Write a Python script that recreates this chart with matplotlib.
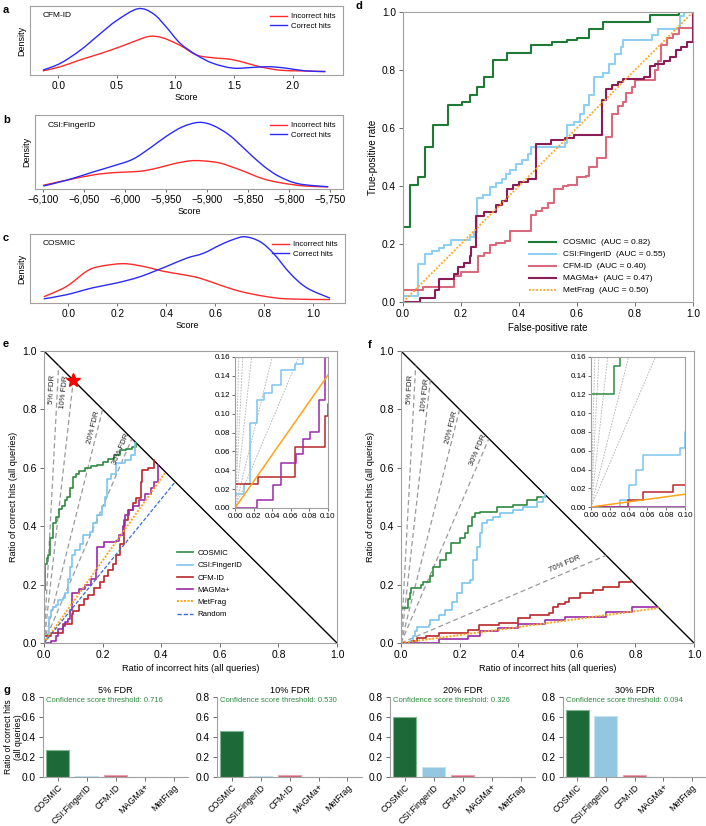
import numpy as np
import matplotlib
matplotlib.use("Agg")
import matplotlib.pyplot as plt
from matplotlib.ticker import FuncFormatter
from matplotlib.path import Path
from matplotlib.patches import PathPatch
from matplotlib.lines import Line2D

plt.rcParams['font.family'] = ['Liberation Sans', 'DejaVu Sans']
plt.rcParams['font.size'] = 7

W, H = 706, 826

# ---------------- data: density curves (a-c) ----------------
cfm_inc_x = [-0.13, 0.02, 0.19, 0.36, 0.53, 0.67, 0.78, 0.89, 1.04, 1.18, 1.32, 1.46, 1.57, 1.72, 1.89, 2.06, 2.28]
cfm_inc_y = [0.06, 0.12, 0.22, 0.31, 0.41, 0.50, 0.56, 0.54, 0.43, 0.29, 0.25, 0.23, 0.19, 0.12, 0.07, 0.06, 0.05]
cfm_cor_x = [-0.13, 0.02, 0.19, 0.36, 0.50, 0.68, 0.81, 0.92, 1.04, 1.18, 1.32, 1.49, 1.66, 1.80, 1.94, 2.11, 2.28]
cfm_cor_y = [0.07, 0.17, 0.36, 0.60, 0.79, 0.96, 0.89, 0.70, 0.46, 0.29, 0.17, 0.10, 0.11, 0.12, 0.10, 0.06, 0.05]

csi_inc_x = [-6100, -6071, -6039, -6015, -5982, -5962, -5941, -5921, -5905, -5884, -5860, -5832, -5808, -5780, -5752]
csi_inc_y = [0.05, 0.12, 0.19, 0.22, 0.24, 0.28, 0.34, 0.38, 0.38, 0.35, 0.26, 0.14, 0.08, 0.04, 0.03]
csi_cor_x = [-6100, -6071, -6039, -6015, -5991, -5970, -5950, -5930, -5910, -5893, -5873, -5853, -5832, -5812, -5788, -5752]
csi_cor_y = [0.04, 0.12, 0.23, 0.31, 0.40, 0.55, 0.71, 0.84, 0.90, 0.86, 0.73, 0.53, 0.32, 0.17, 0.07, 0.03]

cos_inc_x = [-0.10, -0.007, 0.075, 0.129, 0.224, 0.306, 0.388, 0.469, 0.537, 0.619, 0.70, 0.796, 0.891, 1.068]
cos_inc_y = [0.09, 0.24, 0.46, 0.53, 0.57, 0.53, 0.46, 0.41, 0.36, 0.26, 0.17, 0.10, 0.06, 0.05]
cos_cor_x = [-0.10, -0.007, 0.10, 0.197, 0.292, 0.401, 0.483, 0.551, 0.619, 0.673, 0.721, 0.782, 0.837, 0.905, 0.973, 1.068]
cos_cor_y = [0.06, 0.12, 0.22, 0.29, 0.38, 0.53, 0.65, 0.72, 0.84, 0.92, 0.96, 0.89, 0.72, 0.43, 0.22, 0.07]

# ---------------- data: ROC (d) ----------------
roc_cosmic_fpr = [0, 0, 0.025, 0.052, 0.077, 0.103, 0.155, 0.205, 0.23, 0.255, 0.28, 0.31, 0.36, 0.44, 0.515, 0.565, 0.60, 0.64, 0.69, 0.85, 0.95, 1.0]
roc_cosmic_tpr = [0, 0.26, 0.405, 0.43, 0.535, 0.61, 0.68, 0.69, 0.715, 0.74, 0.775, 0.835, 0.86, 0.885, 0.895, 0.905, 0.91, 0.94, 0.965, 0.99, 1.0, 1.0]
roc_csi_fpr = [0, 0, 0.05, 0.077, 0.10, 0.125, 0.14, 0.165, 0.23, 0.245, 0.255, 0.275, 0.30, 0.32, 0.34, 0.355, 0.37, 0.39, 0.41, 0.43,
               0.44, 0.56, 0.565, 0.59, 0.61, 0.625, 0.64, 0.66, 0.69, 0.71, 0.73, 0.75, 0.76, 0.86, 0.88, 0.95, 0.955, 0.97, 1.0]
roc_csi_tpr = [0, 0.02, 0.13, 0.165, 0.175, 0.185, 0.195, 0.215, 0.225, 0.24, 0.36, 0.37, 0.395, 0.41, 0.425, 0.44, 0.455, 0.475, 0.49, 0.51,
               0.535, 0.55, 0.61, 0.62, 0.65, 0.68, 0.715, 0.775, 0.79, 0.82, 0.855, 0.88, 0.905, 0.92, 0.94, 0.945, 0.985, 1.0, 1.0]
roc_cfm_fpr = [0, 0, 0.02, 0.07, 0.175, 0.20, 0.26, 0.28, 0.30, 0.32, 0.35, 0.37, 0.44, 0.46, 0.48, 0.50, 0.52, 0.55, 0.57, 0.60,
               0.63, 0.64, 0.67, 0.70, 0.72, 0.74, 0.76, 0.77, 0.79, 0.80, 0.87, 0.88, 0.89, 0.91, 0.93, 0.95, 1.0]
roc_cfm_tpr = [0, 0.04, 0.04, 0.053, 0.09, 0.105, 0.16, 0.17, 0.195, 0.205, 0.21, 0.245, 0.30, 0.315, 0.325, 0.34, 0.39, 0.40, 0.405, 0.43,
               0.435, 0.465, 0.495, 0.57, 0.65, 0.675, 0.69, 0.72, 0.74, 0.765, 0.80, 0.83, 0.885, 0.91, 0.925, 0.945, 1.0]
roc_magma_fpr = [0, 0.06, 0.11, 0.125, 0.175, 0.19, 0.21, 0.23, 0.235, 0.25, 0.28, 0.32, 0.34, 0.36, 0.38, 0.40, 0.43, 0.46, 0.51, 0.56,
                 0.59, 0.685, 0.70, 0.72, 0.74, 0.76, 0.83, 0.85, 0.87, 0.90, 0.92, 0.94, 0.96, 0.98, 1.0, 1.0]
roc_magma_tpr = [0, 0.015, 0.04, 0.08, 0.095, 0.12, 0.135, 0.16, 0.19, 0.295, 0.31, 0.335, 0.35, 0.39, 0.405, 0.415, 0.425, 0.545, 0.56, 0.565,
                 0.575, 0.695, 0.735, 0.75, 0.76, 0.77, 0.775, 0.815, 0.82, 0.83, 0.845, 0.87, 0.88, 0.895, 0.895, 1.0]
roc_metfrag_fpr = [0, 1]
roc_metfrag_tpr = [0, 1]
auc_labels = ['COSMIC  (AUC = 0.82)', 'CSI:FingerID  (AUC = 0.55)', 'CFM-ID  (AUC = 0.40)',
              'MAGMa+  (AUC = 0.47)', 'MetFrag  (AUC = 0.50)']

# ---------------- data: hits curves (e, f) ----------------
e_cosmic_x = [0, 0, 0.005, 0.01, 0.015, 0.02, 0.03, 0.04, 0.05, 0.06, 0.07, 0.08, 0.09, 0.10, 0.11, 0.12, 0.14, 0.16, 0.18, 0.20, 0.22, 0.24, 0.26, 0.28, 0.30, 0.315]
e_cosmic_y = [0, 0.18, 0.27, 0.29, 0.30, 0.36, 0.41, 0.43, 0.46, 0.47, 0.49, 0.50, 0.53, 0.57, 0.58, 0.59, 0.60, 0.605, 0.61, 0.62, 0.63, 0.645, 0.66, 0.665, 0.67, 0.685]
e_csi_x = [0, 0, 0.01, 0.016, 0.024, 0.031, 0.04, 0.049, 0.065, 0.073, 0.082, 0.088, 0.097, 0.105, 0.122, 0.133, 0.156, 0.168, 0.18, 0.197, 0.207, 0.215, 0.23, 0.247, 0.275, 0.298, 0.31]
e_csi_y = [0, 0.015, 0.025, 0.09, 0.114, 0.122, 0.13, 0.146, 0.153, 0.17, 0.22, 0.26, 0.30, 0.32, 0.34, 0.37, 0.38, 0.41, 0.44, 0.47, 0.50, 0.56, 0.58, 0.616, 0.627, 0.644, 0.685]
e_cfm_x = [0, 0, 0.025, 0.065, 0.097, 0.10, 0.12, 0.135, 0.15, 0.17, 0.19, 0.205, 0.22, 0.235, 0.245, 0.258, 0.272, 0.287, 0.304, 0.315, 0.332, 0.335, 0.355, 0.374]
e_cfm_y = [0, 0.025, 0.033, 0.065, 0.098, 0.11, 0.13, 0.15, 0.165, 0.19, 0.21, 0.23, 0.25, 0.27, 0.30, 0.34, 0.42, 0.456, 0.479, 0.496, 0.553, 0.593, 0.60, 0.626]
e_magma_x = [0, 0.024, 0.041, 0.049, 0.066, 0.073, 0.081, 0.09, 0.097, 0.12, 0.14, 0.16, 0.178, 0.18, 0.205, 0.245, 0.255, 0.27, 0.275, 0.29, 0.305, 0.325, 0.345, 0.365, 0.375, 0.39]
e_magma_y = [0, 0.008, 0.024, 0.048, 0.057, 0.073, 0.081, 0.114, 0.17, 0.185, 0.20, 0.22, 0.25, 0.33, 0.345, 0.35, 0.37, 0.40, 0.44, 0.455, 0.47, 0.49, 0.51, 0.53, 0.55, 0.61]
e_metfrag_x = [0, 0.415]
e_metfrag_y = [0, 0.585]
e_random_x = [0, 0.448]
e_random_y = [0, 0.552]

f_cosmic_x = [0, 0, 0.024, 0.031, 0.035, 0.067, 0.075, 0.098, 0.11, 0.132, 0.155, 0.172, 0.2, 0.218, 0.229, 0.241, 0.252, 0.269, 0.326, 0.383, 0.429, 0.463, 0.49]
f_cosmic_y = [0, 0.12, 0.15, 0.17, 0.19, 0.20, 0.21, 0.228, 0.26, 0.285, 0.308, 0.342, 0.36, 0.376, 0.40, 0.433, 0.444, 0.45, 0.467, 0.473, 0.49, 0.50, 0.51]
f_csi_x = [0, 0.031, 0.04, 0.048, 0.055, 0.095, 0.10, 0.13, 0.15, 0.175, 0.19, 0.207, 0.235, 0.246, 0.258, 0.269, 0.275, 0.292, 0.315, 0.338, 0.383, 0.418, 0.463, 0.486, 0.49]
f_csi_y = [0, 0.008, 0.024, 0.04, 0.056, 0.063, 0.08, 0.097, 0.114, 0.14, 0.171, 0.205, 0.215, 0.285, 0.33, 0.376, 0.41, 0.42, 0.433, 0.444, 0.456, 0.467, 0.484, 0.50, 0.51]
f_cfm_x = [0, 0.039, 0.055, 0.087, 0.13, 0.23, 0.265, 0.335, 0.40, 0.44, 0.505, 0.52, 0.535, 0.56, 0.575, 0.61, 0.655, 0.69, 0.745, 0.785]
f_cfm_y = [0, 0.008, 0.016, 0.024, 0.034, 0.045, 0.063, 0.068, 0.085, 0.097, 0.103, 0.125, 0.135, 0.14, 0.155, 0.171, 0.182, 0.193, 0.21, 0.215]
f_magma_x = [0, 0.13, 0.23, 0.27, 0.33, 0.40, 0.49, 0.56, 0.70, 0.79, 0.875]
f_magma_y = [0, 0.015, 0.025, 0.04, 0.05, 0.065, 0.08, 0.09, 0.105, 0.125, 0.125]
f_metfrag_x = [0, 0.88]
f_metfrag_y = [0, 0.12]

fdr_main_e = [0.05, 0.10, 0.20, 0.30]
fdr_main_f = [0.05, 0.10, 0.20, 0.30, 0.70]
fdr_inset = [0.025, 0.05, 0.10, 0.20, 0.30]
star_pt = (0.1, 0.9)

# ---------------- data: bar charts (g) ----------------
tools = ['COSMIC', 'CSI:FingerID', 'CFM-ID', 'MAGMa+', 'MetFrag']
fdr_titles = ['5% FDR', '10% FDR', '20% FDR', '30% FDR']
thresholds = ['0.716', '0.530', '0.326', '0.094']
bar_vals = [
    [0.27, 0.01, 0.02, 0.0, 0.0],
    [0.46, 0.01, 0.02, 0.0, 0.0],
    [0.60, 0.10, 0.02, 0.0, 0.0],
    [0.67, 0.61, 0.02, 0.0, 0.0],
]

# colours
RED, BLUE = '#ff2a2a', '#2a2aff'
D_COL = ['#1e7b36', '#8fd0f2', '#d9697d', '#8a1d55', '#ffa31a']
E_COL = ['#2e8a40', '#7cc6ee', '#b8282a', '#9a2aa8', '#ffa31a']
RANDOM_COL = '#3a6bd6'
BAR_FACE = ['#1d6a38', '#93c7e0', '#d05d71', '#8a3a7c', '#ffa31a']
BAR_EDGE = ['#7fb58f', '#c6e3f0', '#e8a3ae', '#c49ab8', '#ffd18c']
SPINE = '#a0a0a0'


def ax_px(x0, y0, x1, y1):
    return fig.add_axes([x0 / W, 1 - y1 / H, (x1 - x0) / W, (y1 - y0) / H])


def style(ax, ls=7.3):
    for s in ax.spines.values():
        s.set_color(SPINE)
        s.set_linewidth(0.8)
    ax.tick_params(labelsize=ls, length=3, width=0.6, color='#555555', pad=2)


def smooth_curve(ax, xs, ys, color):
    # smooth drawing through the read points (Catmull-Rom as cubic Bezier)
    p = np.column_stack([xs, ys]).astype(float)
    verts, codes = [p[0]], [Path.MOVETO]
    for i in range(len(p) - 1):
        p0 = p[i - 1] if i > 0 else p[i]
        p3 = p[i + 2] if i + 2 < len(p) else p[i + 1]
        verts += [p[i] + (p[i + 1] - p0) / 6, p[i + 1] - (p3 - p[i]) / 6, p[i + 1]]
        codes += [Path.CURVE4] * 3
    ax.add_patch(PathPatch(Path(verts, codes), fill=False, edgecolor=color, lw=1.0))


fig = plt.figure(figsize=(W / 100, H / 100), dpi=100)

# ---------------- a, b, c ----------------
dens = [
    ('CFM-ID', (30, 6, 343, 75), cfm_inc_x, cfm_inc_y, cfm_cor_x, cfm_cor_y, (-0.24, 2.43), np.arange(0, 2.01, 0.5), '{:.1f}'),
    ('CSI:FingerID', (35, 115, 343, 189), csi_inc_x, csi_inc_y, csi_cor_x, csi_cor_y, (-6110, -5734), np.arange(-6100, -5749, 50), 'comma'),
    ('COSMIC', (30, 234, 345, 303), cos_inc_x, cos_inc_y, cos_cor_x, cos_cor_y, (-0.156, 1.129), np.arange(0, 1.01, 0.2), '{:.1f}'),
]
for name, box, ix, iy, cx, cy, xl, ticks, fmt in dens:
    ax = ax_px(*box)
    smooth_curve(ax, ix, iy, RED)
    smooth_curve(ax, cx, cy, BLUE)
    ax.set_xlim(*xl)
    ax.set_ylim(0, 1.0)
    ax.set_yticks([])
    ax.set_xticks(ticks)
    if fmt == 'comma':
        ax.xaxis.set_major_formatter(FuncFormatter(lambda v, p: f'{v:,.0f}'.replace('-', '\u2212')))
    else:
        ax.set_xticklabels([fmt.format(t) for t in ticks])
    ax.set_xlabel('Score', fontsize=6.5, labelpad=2)
    ax.set_ylabel('Density', fontsize=6.5, labelpad=3)
    ax.text(0.04, 0.84, name, transform=ax.transAxes, fontsize=6)
    handles = [Line2D([], [], color=RED, lw=1.0), Line2D([], [], color=BLUE, lw=1.0)]
    ax.legend(handles, ['Incorrect hits', 'Correct hits'], loc='upper right', frameon=False,
              fontsize=5.6, handlelength=2.2, labelspacing=0.25, borderaxespad=0.5, handletextpad=0.5)
    style(ax)
    ax.tick_params(axis='x', length=2)

for lbl, (x, y) in zip('abc', [(3, 10), (3, 120), (3, 238)]):
    fig.text(x / W, 1 - y / H, lbl, fontsize=8, fontweight='bold', va='center')

# ---------------- d ----------------
ax = ax_px(403, 12, 693, 302)
ax.step(roc_cosmic_fpr, roc_cosmic_tpr, where='post', color=D_COL[0], lw=1.5, label=auc_labels[0])
ax.step(roc_csi_fpr, roc_csi_tpr, where='post', color=D_COL[1], lw=1.5, label=auc_labels[1])
ax.step(roc_cfm_fpr, roc_cfm_tpr, where='post', color=D_COL[2], lw=1.5, label=auc_labels[2])
ax.step(roc_magma_fpr, roc_magma_tpr, where='post', color=D_COL[3], lw=1.5, label=auc_labels[3])
ax.plot(roc_metfrag_fpr, roc_metfrag_tpr, color=D_COL[4], lw=1.3, ls=(0, (1, 1)), label=auc_labels[4])
ax.set_xlim(0, 1)
ax.set_ylim(0, 1)
ticks = np.arange(0, 1.01, 0.2)
ax.set_xticks(ticks)
ax.set_yticks(ticks)
ax.set_xticklabels([f'{t:.1f}' for t in ticks])
ax.set_yticklabels([f'{t:.1f}' for t in ticks])
ax.set_xlabel('False-positive rate', fontsize=7, labelpad=3)
ax.set_ylabel('True-positive rate', fontsize=7, labelpad=3)
ax.legend(loc='lower right', bbox_to_anchor=(0.93, 0.0), frameon=False, fontsize=6,
          handlelength=3.2, labelspacing=0.5, handletextpad=0.8)
style(ax)
fig.text(355 / W, 1 - 6 / H, 'd', fontsize=8, fontweight='bold', va='center')


# ---------------- e, f ----------------
def hits_lines(ax, series, lw=1.2):
    for xs, ys, c in series:
        ax.step(xs, ys, where='post', color=c, lw=lw)


def hits_panel(box, inset_box, series, metfrag, random, fdrs, fdr_pos, letter, letter_xy, with_legend):
    ax = ax_px(*box)
    ax.plot([0, 1], [1, 0], color='black', lw=1.0)
    for f in fdrs:
        ax.plot([0, f], [0, 1 - f], color='#9a9a9a', lw=0.9, ls=(0, (4, 2.5)))
    for f, (tx, ty) in zip(fdrs, fdr_pos):
        ang = np.degrees(np.arctan2(1 - f, f))
        ax.text(tx, ty, f'{int(round(f * 100))}% FDR', rotation=ang, fontsize=5.6,
                ha='center', va='center', rotation_mode='anchor', color='#222222')
    hits_lines(ax, series)
    ax.plot(metfrag[0], metfrag[1], color=E_COL[4], lw=1.4, ls=(0, (1, 0.8)))
    if random is not None:
        ax.plot(random[0], random[1], color=RANDOM_COL, lw=0.9, ls=(0, (3, 1.5)))
    ax.set_xlim(0, 1)
    ax.set_ylim(0, 1)
    ticks = np.arange(0, 1.01, 0.2)
    ax.set_xticks(ticks)
    ax.set_yticks(ticks)
    ax.set_xticklabels([f'{t:.1f}' for t in ticks])
    ax.set_yticklabels([f'{t:.1f}' for t in ticks])
    ax.set_xlabel('Ratio of incorrect hits (all queries)', fontsize=6.6, labelpad=3)
    ax.set_ylabel('Ratio of correct hits (all queries)', fontsize=6.6, labelpad=3)
    style(ax, 7.5)
    if with_legend:
        handles = [Line2D([], [], color=E_COL[i], lw=1.2) for i in range(4)]
        handles.append(Line2D([], [], color=E_COL[4], lw=1.4, ls=(0, (1, 0.8))))
        handles.append(Line2D([], [], color=RANDOM_COL, lw=1.0, ls=(0, (3, 1.5))))
        ax.legend(handles, ['COSMIC', 'CSI:FingerID', 'CFM-ID', 'MAGMa+', 'MetFrag', 'Random'],
                  loc='lower left', bbox_to_anchor=(0.43, 0.06), frameon=False, fontsize=5.6,
                  handlelength=2.0, labelspacing=0.62, handletextpad=0.6)
    fig.text(letter_xy[0] / W, 1 - letter_xy[1] / H, letter, fontsize=8, fontweight='bold', va='center')

    ins = ax_px(*inset_box)
    for f in fdr_inset:
        ins.plot([0, f], [0, 1 - f], color='#b0b0b0', lw=0.6, ls=(0, (2, 1.5)))
    hits_lines(ins, series, lw=1.1)
    ins.plot(metfrag[0], metfrag[1], color=E_COL[4], lw=1.1)
    ins.set_xlim(0, 0.1)
    ins.set_ylim(0, 0.16)
    ins.set_xticks(np.arange(0, 0.101, 0.02))
    ins.set_yticks(np.arange(0, 0.161, 0.02))
    ins.set_xticklabels([f'{t:.2f}' for t in np.arange(0, 0.101, 0.02)])
    ins.set_yticklabels([f'{t:.2f}' for t in np.arange(0, 0.161, 0.02)])
    style(ins, 5.8)
    ins.tick_params(length=2, pad=1.5)
    return ax


ax_e = hits_panel((44, 351, 337, 643), (235, 357, 328, 508),
                  [(e_cosmic_x, e_cosmic_y, E_COL[0]), (e_csi_x, e_csi_y, E_COL[1]),
                   (e_cfm_x, e_cfm_y, E_COL[2]), (e_magma_x, e_magma_y, E_COL[3])],
                  (e_metfrag_x, e_metfrag_y), (e_random_x, e_random_y),
                  fdr_main_e, [(0.028, 0.87), (0.068, 0.86), (0.17, 0.74), (0.262, 0.665)],
                  'e', (3, 344), True)
ax_e.plot(*star_pt, marker='*', color='red', ms=10, mec='red', zorder=5)

hits_panel((401, 351, 694, 643), (591, 357, 685, 507),
           [(f_cosmic_x, f_cosmic_y, E_COL[0]), (f_csi_x, f_csi_y, E_COL[1]),
            (f_cfm_x, f_cfm_y, E_COL[2]), (f_magma_x, f_magma_y, E_COL[3])],
           (f_metfrag_x, f_metfrag_y), None,
           fdr_main_f, [(0.03, 0.87), (0.082, 0.85), (0.172, 0.74), (0.262, 0.66), (0.56, 0.27)],
           'f', (368, 345), False)

# ---------------- g ----------------
g_boxes = [(43, 697, 188, 777), (217, 697, 362, 777), (390, 697, 535, 777), (563, 697, 706, 777)]
for i, box in enumerate(g_boxes):
    ax = ax_px(*box)
    xs = np.arange(len(tools))
    ax.bar(xs, bar_vals[i], width=0.8, color=BAR_FACE, edgecolor=BAR_EDGE, linewidth=0.8)
    ax.set_xlim(-0.5, 4.5)
    ax.set_ylim(0, 0.8)
    ax.set_yticks(np.arange(0, 0.81, 0.2))
    ax.set_yticklabels([f'{t:.1f}' for t in np.arange(0, 0.81, 0.2)])
    ax.set_xticks(xs)
    ax.set_xticklabels(tools, rotation=45, ha='right', rotation_mode='anchor')
    ax.spines['top'].set_visible(False)
    ax.spines['right'].set_visible(False)
    style(ax, 7.3)
    ax.tick_params(axis='x', labelsize=6.4, pad=1)
    ax.set_title(fdr_titles[i], fontsize=6.6, pad=3)
    ax.text(0.02, 1.0, f'Confidence score threshold: {thresholds[i]}', transform=ax.transAxes,
            fontsize=5.5, color='#2e8a40', va='top')
    if i == 0:
        ax.set_ylabel('Ratio of correct hits\n(all queries)', fontsize=6.2, linespacing=1.05)
        ax.yaxis.set_label_coords(-0.14, 0.5)
fig.text(3 / W, 1 - 690 / H, 'g', fontsize=8, fontweight='bold', va='center')

fig.savefig('out.png', dpi=100)
